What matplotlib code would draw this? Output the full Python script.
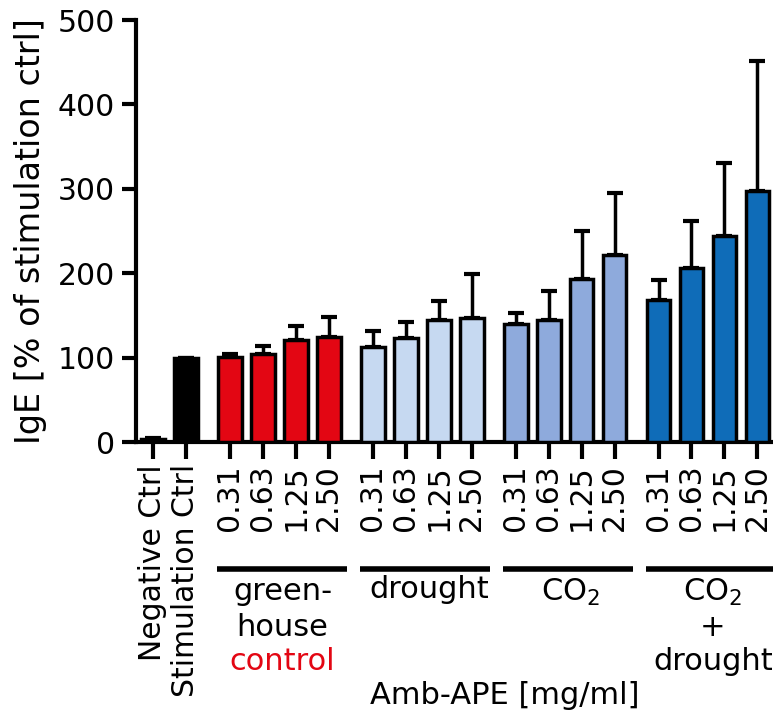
import matplotlib
matplotlib.use("Agg")
import matplotlib.pyplot as plt
from matplotlib.transforms import blended_transform_factory
import numpy as np

plt.rcParams['font.family'] = ['DejaVu Sans']
plt.rcParams['mathtext.default'] = 'regular'

ctrl_labels = ["Negative Ctrl", "Stimulation Ctrl"]
ctrl_values = [3, 100]
ctrl_errors = [2, 0]
ctrl_colors = ["#000000", "#000000"]

doses = ["0.31", "0.63", "1.25", "2.50"]
group_names = ["greenhouse", "drought", "CO2", "CO2+drought"]
group_colors = ["#e30613", "#c6d9f1", "#8eaadc", "#0f6cb8"]

greenhouse_vals = [101, 104, 121, 124]
greenhouse_err = [3, 10, 17, 24]
drought_vals = [112, 123, 145, 147]
drought_err = [20, 19, 22, 52]
co2_vals = [140, 145, 193, 221]
co2_err = [13, 34, 57, 74]
co2_drought_vals = [168, 206, 244, 297]
co2_drought_err = [24, 56, 87, 154]

group_vals = [greenhouse_vals, drought_vals, co2_vals, co2_drought_vals]
group_errs = [greenhouse_err, drought_err, co2_err, co2_drought_err]

W, H = 773, 715
fig = plt.figure(figsize=(W / 100, H / 100), dpi=100)
ax = fig.add_axes([136 / W, 1 - 442 / H, 1 - 136 / W, (442 - 20) / H])

bw = 0.72
lw = 2.5
xs_ctrl = np.arange(len(ctrl_values))
ax.bar(xs_ctrl, ctrl_values, width=bw, color=ctrl_colors, edgecolor="black", linewidth=lw, zorder=3)
ax.errorbar(xs_ctrl, ctrl_values, yerr=[np.zeros(2), ctrl_errors], fmt="none",
            ecolor="black", elinewidth=2.5, capsize=6, capthick=3, zorder=2)

all_x = list(xs_ctrl)
all_labels = list(ctrl_labels)
group_x = []
for k, (vals, errs, col) in enumerate(zip(group_vals, group_errs, group_colors)):
    start = 2.33 + 4.33 * k
    xs = start + np.arange(len(vals))
    group_x.append(xs)
    ax.bar(xs, vals, width=bw, color=col, edgecolor="black", linewidth=lw, zorder=3)
    ax.errorbar(xs, vals, yerr=[np.zeros(len(vals)), errs], fmt="none",
                ecolor="black", elinewidth=2.5, capsize=6, capthick=3, zorder=2)
    all_x += list(xs)
    all_labels += doses

ax.set_xlim(-0.515, 18.79)
ax.set_ylim(0, 500)
ax.set_yticks([0, 100, 200, 300, 400, 500])
ax.set_xticks(all_x)
ax.set_xticklabels(all_labels, rotation=90, fontsize=21.5)
ax.tick_params(axis="y", labelsize=21.5, length=10, width=3, pad=5)
ax.tick_params(axis="x", length=12, width=3, pad=4)
for s in ["top", "right"]:
    ax.spines[s].set_visible(False)
for s in ["left", "bottom"]:
    ax.spines[s].set_linewidth(3)

ax.set_ylabel("IgE [% of stimulation ctrl]", fontsize=24, labelpad=8)

trans = blended_transform_factory(ax.transData, ax.transAxes)
line_y = (442 - 569) / 422
for xs in group_x:
    ax.plot([xs[0] - 0.38, xs[-1] + 0.55], [line_y, line_y], color="black", lw=4,
            transform=trans, clip_on=False, solid_capstyle="butt")

def fy(py):
    return (442 - py) / 422

fs = 22
c0 = group_x[0].mean() + 0.1
ax.text(c0, fy(592), "green-", ha="center", va="center", fontsize=fs, transform=trans)
ax.text(c0, fy(627), "house", ha="center", va="center", fontsize=fs, transform=trans)
ax.text(c0, fy(662), "control", ha="center", va="center", fontsize=fs, color="#e30613", transform=trans)
c1 = group_x[1].mean() + 0.2
ax.text(c1, fy(590), "drought", ha="center", va="center", fontsize=fs, transform=trans)
c2 = group_x[2].mean() + 0.15
ax.text(c2, fy(592), "CO$_2$", ha="center", va="center", fontsize=fs, transform=trans)
c3 = group_x[3].mean() + 0.15
ax.text(c3, fy(592), "CO$_2$", ha="center", va="center", fontsize=fs, transform=trans)
ax.text(c3, fy(627), "+", ha="center", va="center", fontsize=fs, transform=trans)
ax.text(c3, fy(662), "drought", ha="center", va="center", fontsize=fs, transform=trans)

fig.text(505 / W, 1 - 695 / H, "Amb-APE [mg/ml]", ha="center", va="center", fontsize=22)

fig.savefig("out.png", dpi=100)
